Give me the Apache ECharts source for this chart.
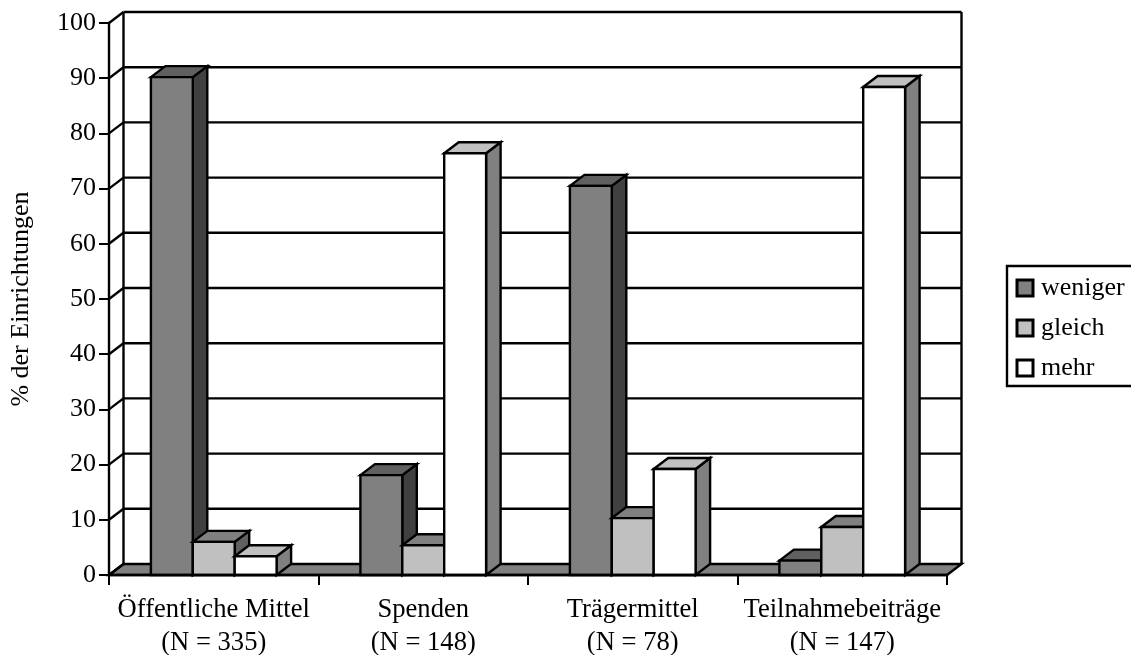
<!DOCTYPE html>
<html><head><meta charset="utf-8">
<style>html,body{margin:0;padding:0;background:#fff;overflow:hidden}#c{width:1131px;height:655px}</style>
<script src="https://cdn.jsdelivr.net/npm/echarts@6/dist/echarts.min.js"></script>
</head><body><div id="c"></div>
<script>
const categories = ['Öffentliche Mittel\n(N = 335)', 'Spenden\n(N = 148)', 'Trägermittel\n(N = 78)', 'Teilnahmebeiträge\n(N = 147)'];
const weniger = [90.2, 18.1, 70.5, 2.6];
const gleich = [6, 5.4, 10.3, 8.7];
const mehr = [3.4, 76.4, 19.2, 88.4];
const yTicks = [0, 10, 20, 30, 40, 50, 60, 70, 80, 90, 100];

const DX = 14.5, DY = -11, LW = 2.4, FONT = '"Liberation Serif", serif';
const line = { stroke: '#000', lineWidth: LW, fill: null };

function poly(points, fill) {
  return { type: 'polygon', shape: { points }, style: { fill, stroke: '#000', lineWidth: LW, lineJoin: 'miter' } };
}
function seg(x1, y1, x2, y2) {
  return { type: 'line', shape: { x1, y1, x2, y2 }, style: line };
}
function renderWall(params, api) {
  const c = params.coordSys, v = api.value(1);
  const y = api.coord([0, v])[1], L = c.x, R = c.x + c.width;
  const kids = [];
  if (v === 0) {
    kids.push(poly([[L, y], [L + DX, y + DY], [R + DX, y + DY], [R, y]], '#808080'));
  } else {
    kids.push(seg(L + DX, y + DY, R + DX, y + DY));
  }
  kids.push(seg(L, y, L + DX, y + DY));
  if (v === 100) {
    const y0 = api.coord([0, 0])[1];
    kids.push(seg(L + DX, y + DY, L + DX, y0 + DY));
    kids.push(seg(R + DX, y + DY, R + DX, y0 + DY));
  }
  return { type: 'group', children: kids };
}
function barRenderer(k, front, top, side) {
  return function (params, api) {
    const top0 = api.coord([api.value(0), api.value(1)]);
    const base = api.coord([api.value(0), 0]);
    const w = api.size([1, 0])[0] / 5;
    const x0 = top0[0] - 1.5 * w + k * w, x1 = x0 + w, yT = top0[1], yB = base[1];
    return { type: 'group', children: [
      poly([[x1, yB], [x1 + DX, yB + DY], [x1 + DX, yT + DY], [x1, yT]], side),
      poly([[x0, yT], [x0 + DX, yT + DY], [x1 + DX, yT + DY], [x1, yT]], top),
      poly([[x0, yT], [x1, yT], [x1, yB], [x0, yB]], front)
    ] };
  };
}
function barSeries(name, values, k, front, top, side) {
  return {
    name, type: 'custom', renderItem: barRenderer(k, front, top, side),
    data: values.map((v, i) => [i, v]), encode: { x: 0, y: 1 }, z: 3,
    itemStyle: { color: front, borderColor: '#000', borderWidth: LW }, silent: true
  };
}
const chart = echarts.init(document.getElementById('c'), null, { renderer: 'canvas' });
chart.setOption({
  animation: false,
  backgroundColor: '#fff',
  textStyle: { fontFamily: FONT, color: '#000' },
  grid: { left: 109, top: 23, width: 838, height: 552, containLabel: false, outerBoundsMode: 'none' },
  xAxis: {
    type: 'category', data: categories, z: 6,
    axisLine: { lineStyle: { color: '#000', width: 2.4 } },
    axisTick: { show: true, alignWithLabel: false, length: 10, lineStyle: { color: '#000', width: 2 } },
    axisLabel: { fontFamily: FONT, fontSize: 26.6, color: '#000', lineHeight: 33, margin: 19, interval: 0 },
    splitLine: { show: false }
  },
  yAxis: {
    type: 'value', min: 0, max: 100, interval: 10, z: 6,
    name: '% der Einrichtungen', nameLocation: 'middle', nameGap: 75,
    nameTextStyle: { fontFamily: FONT, fontSize: 26, color: '#000' },
    axisLine: { show: true, lineStyle: { color: '#000', width: 2.4 } },
    axisTick: { show: true, length: 10, lineStyle: { color: '#000', width: 2 } },
    axisLabel: { fontFamily: FONT, fontSize: 26, color: '#000', margin: 13 },
    splitLine: { show: false }
  },
  legend: {
    left: 1007, top: 266, orient: 'vertical', itemWidth: 16, itemHeight: 16, itemGap: 14,
    padding: [9, 30, 5, 8.5], borderColor: '#000', borderWidth: 2.4, backgroundColor: '#fff',
    selectedMode: false, icon: 'rect', align: 'left',
    itemStyle: { borderWidth: 3 },
    textStyle: { fontFamily: FONT, fontSize: 26, color: '#000', padding: [0, 0, 0, 3] },
    data: ['weniger', 'gleich', 'mehr']
  },
  series: [
    { name: 'wall', type: 'custom', renderItem: renderWall, data: yTicks.map(v => [0, v]), encode: { x: 0, y: 1 }, z: 1, silent: true },
    barSeries('weniger', weniger, 0, '#808080', '#606060', '#404040'),
    barSeries('gleich', gleich, 1, '#c0c0c0', '#808080', '#606060'),
    barSeries('mehr', mehr, 2, '#ffffff', '#c0c0c0', '#808080')
  ]
});
</script></body></html>
